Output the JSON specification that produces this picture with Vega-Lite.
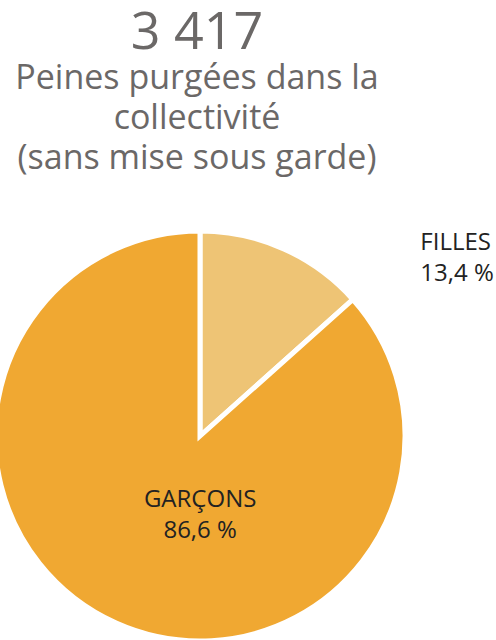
{
  "$schema": "https://vega.github.io/schema/vega-lite/v6.json",
  "width": 400,
  "height": 408,
  "autosize": {"type": "none"},
  "padding": {"left": 0, "top": 232, "right": 96, "bottom": 0},
  "background": "white",
  "config": {"view": {"stroke": null}, "font": "Open Sans"},
  "title": {
    "text": "3 417",
    "subtitle": ["Peines purgées dans la", "collectivité", "(sans mise sous garde)"],
    "anchor": "middle",
    "dx": -3,
    "font": "Open Sans",
    "fontSize": 52,
    "fontWeight": "normal",
    "color": "#6b6867",
    "subtitleFont": "Open Sans",
    "subtitleFontSize": 34,
    "subtitleLineHeight": 40,
    "subtitleColor": "#6b6867",
    "subtitlePadding": 2,
    "offset": 44
  },
  "data": {
    "values": [
      {"category": "FILLES", "pct": 13.4, "lbl": "FILLES\n13,4 %"},
      {"category": "GARÇONS", "pct": 86.6, "lbl": "GARÇONS\n86,6 %"}
    ]
  },
  "encoding": {
    "theta": {"field": "pct", "type": "quantitative", "stack": true},
    "color": {
      "field": "category",
      "type": "nominal",
      "scale": {"domain": ["FILLES", "GARÇONS"], "range": ["#EEC475", "#F0A832"]},
      "legend": null
    }
  },
  "layer": [
    {
      "mark": {"type": "arc", "outerRadius": 205, "stroke": "white", "strokeWidth": 5}
    },
    {
      "mark": {
        "type": "text",
        "radius": 78,
        "dx": 32,
        "align": "center",
        "baseline": "alphabetic",
        "fontSize": 24,
        "lineHeight": 31,
        "lineBreak": "\n",
        "font": "Open Sans",
        "fill": "#222222"
      },
      "encoding": {
        "color": {"value": "#222222"},
        "text": {"condition": {"test": "datum.category === 'GARÇONS'", "field": "lbl", "type": "nominal"}, "value": ""}
      }
    },
    {
      "mark": {
        "type": "text",
        "radius": 204,
        "dx": 137,
        "align": "left",
        "baseline": "alphabetic",
        "fontSize": 24,
        "lineHeight": 31,
        "lineBreak": "\n",
        "font": "Open Sans",
        "fill": "#222222"
      },
      "encoding": {
        "color": {"value": "#222222"},
        "text": {"condition": {"test": "datum.category === 'FILLES'", "field": "lbl", "type": "nominal"}, "value": ""}
      }
    }
  ]
}
